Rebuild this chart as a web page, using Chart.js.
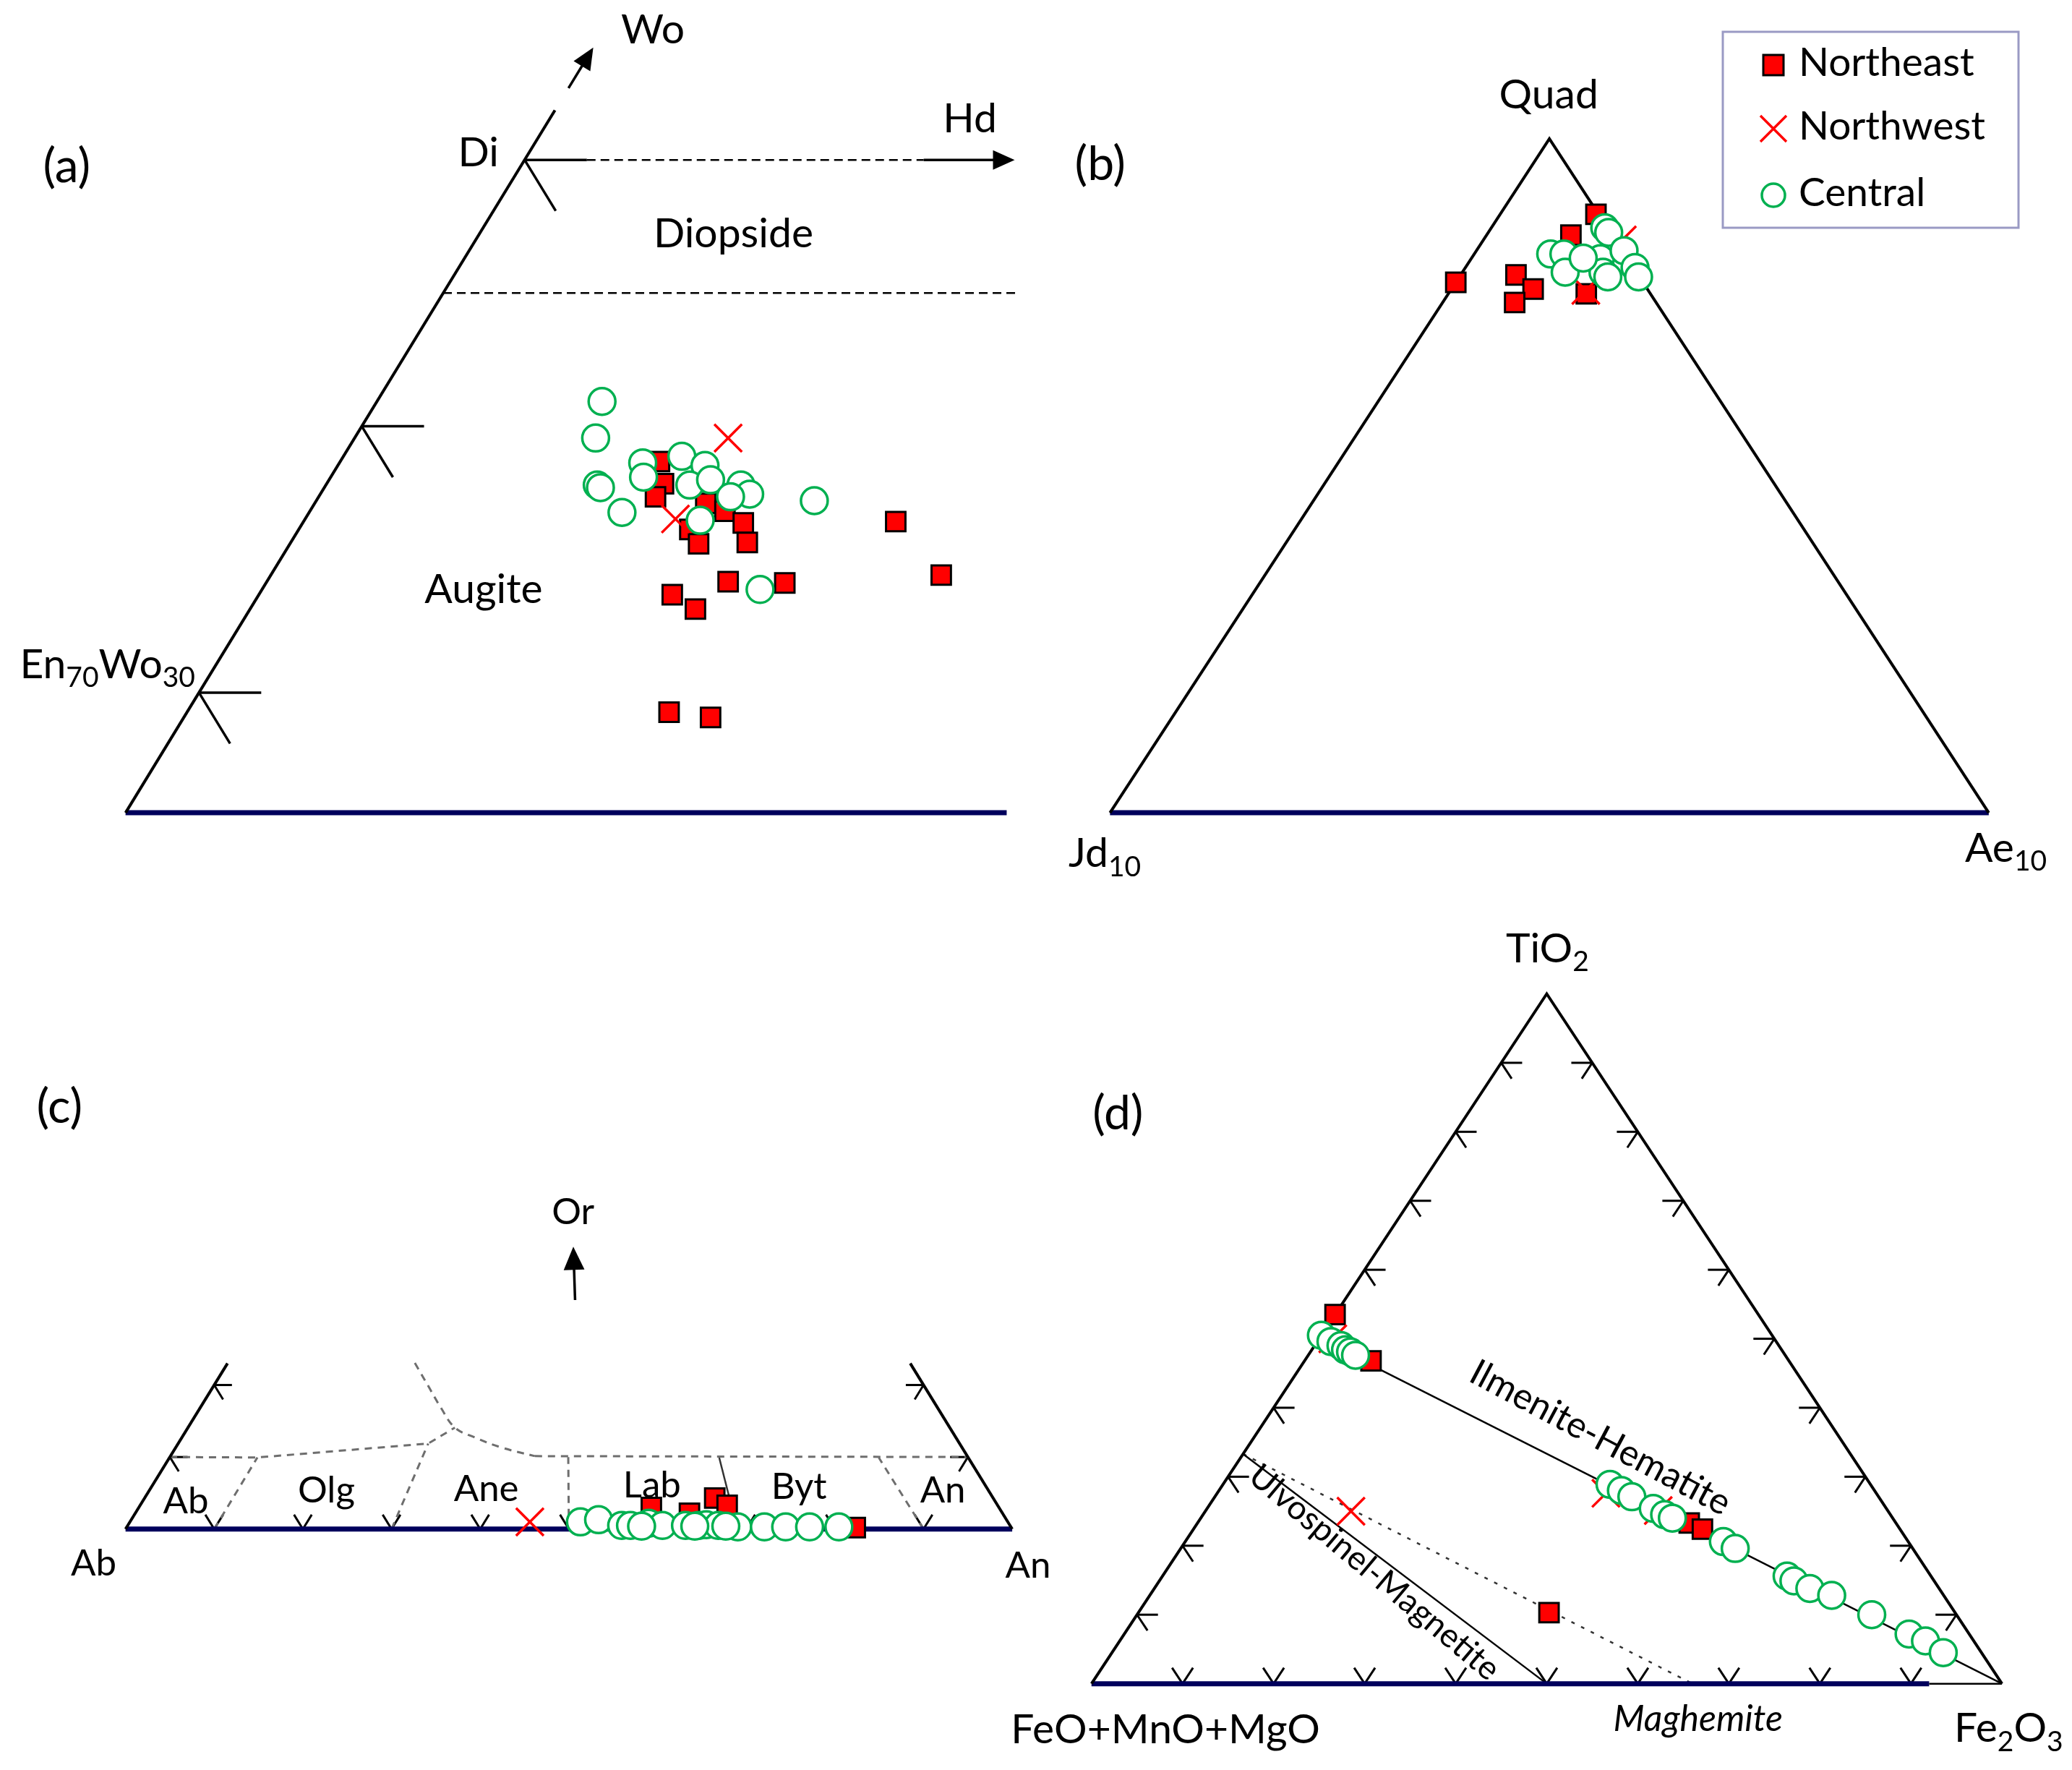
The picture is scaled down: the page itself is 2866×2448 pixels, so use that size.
<!DOCTYPE html>
<html>
<head>
<meta charset="utf-8">
<title>Ternary plots</title>
<script src="https://cdn.jsdelivr.net/npm/chart.js@4.4.1/dist/chart.umd.min.js"></script>
<style>
  html, body { margin: 0; padding: 0; background: #ffffff; }
  #page { position: relative; width: 2866px; height: 2448px; }
  #page canvas { position: absolute; left: 0; top: 0; }
</style>
</head>
<body>
<div id="page">
  <canvas id="chartA" width="2866" height="2448"></canvas>
  <canvas id="chartB" width="2866" height="2448"></canvas>
  <canvas id="chartC" width="2866" height="2448"></canvas>
  <canvas id="chartD" width="2866" height="2448"></canvas>
</div>
<script>
// ---- data, in % ----

// (a) pyroxene Wo - En - Fs  (Wo = apex direction, Fs = right)
const aNortheastWo = [26.9, 25.2, 24.2, 23.7, 23.1, 21.7, 20.6, 22.2, 20.7, 22.3, 18.2, 16.7, 15.6, 17.7, 17.6, 7.7, 7.3];
const aNortheastFs = [20.0, 21.1, 21.1, 24.5, 26.0, 24.5, 25.6, 27.6, 28.6, 37.1, 42.0, 25.9, 27.9, 28.9, 32.5, 30.2, 33.0];
const aNorthwestWo = [28.7, 22.5];
const aNorthwestFs = [23.4, 23.2];
const aCentralWo = [31.5, 28.7, 25.1, 24.9, 23.0, 26.8, 25.7, 27.3, 26.6, 25.1, 25.5, 25.1, 24.4, 24.2, 22.4, 23.9, 17.1];
const aCentralFs = [14.1, 15.1, 17.0, 17.3, 19.6, 19.0, 19.6, 21.2, 23.0, 22.8, 23.9, 26.0, 26.9, 25.8, 24.8, 31.2, 31.2];

// (b) Quad - Jd - Ae
const bNortheastQuad = [88.8, 85.7, 79.8, 77.7, 75.7, 77.0, 78.7];
const bNortheastAe = [10.9, 9.6, 6.3, 9.3, 8.2, 15.7, 0.0];
const bNorthwestQuad = [85.0, 77.5];
const bNorthwestAe = [15.8, 15.4];
const bCentralQuad = [82.9, 82.9, 80.2, 86.8, 86.1, 82.2, 80.2, 83.4, 80.9, 79.5, 82.3, 79.5];
const bCentralAe = [8.7, 10.2, 11.7, 12.9, 13.7, 14.7, 16.0, 16.8, 19.3, 20.4, 12.7, 16.9];

// (c) feldspar Or - Ab - An
const cNortheastOr = [3.0, 2.2, 4.3, 3.3, 0.2];
const cNortheastAn = [57.8, 62.5, 64.3, 66.2, 82.2];
const cNorthwestOr = [1.0];
const cNorthwestAn = [45.1];
const cCentralOr = [1.0, 1.3, 0.5, 0.5, 0.8, 0.5, 0.5, 0.5, 0.6, 0.5, 0.3, 0.3, 0.3, 0.3, 0.3, 0.4, 0.4, 0.4];
const cCentralAn = [50.8, 52.7, 55.7, 56.7, 58.6, 60.3, 62.9, 64.4, 65.2, 66.6, 68.9, 71.9, 74.3, 77.0, 80.3, 58.0, 64.0, 67.5];

// (d) Fe-Ti oxides TiO2 - (FeO+MnO+MgO) - Fe2O3
const dNortheastTiO2 = [53.5, 46.8, 23.3, 22.4, 10.3];
const dNortheastFe2O3 = [0.0, 7.3, 54.0, 55.9, 45.1];
const dNorthwestTiO2 = [25.0, 50.0, 27.6, 25.1];
const dNorthwestFe2O3 = [16.0, 1.5, 42.7, 49.7];
const dCentralTiO2 = [50.5, 49.6, 49.0, 48.4, 48.1, 47.6, 28.9, 28.0, 27.1, 25.4, 24.5, 24.0, 20.6, 19.6, 15.6, 14.9, 13.8, 12.8, 10.0, 7.2, 6.2, 4.5];
const dCentralFe2O3 = [0.0, 1.5, 2.9, 3.7, 4.4, 5.2, 42.5, 44.2, 45.8, 49.0, 50.7, 51.8, 59.1, 60.9, 68.6, 69.7, 72.0, 74.9, 80.7, 86.2, 88.5, 91.3];

const legendNames = ['Northeast', 'Northwest', 'Central'];

// ---- layout ----
const W = 2866, H = 2448;
const K = W / 1568;            // layout units below -> page px
const FONT = 'Lato, "Open Sans", "DejaVu Sans", sans-serif';

// where each triangle sits: origin of the base-left corner and size of 1 % step
const GEO = {
  a: { ox: 95, oy: 615, ux: 12.08, uy: 9.88 },
  b: { ox: 840, oy: 615, ux: 6.65, uy: 5.10 },
  c: { ox: 95, oy: 1157, ux: 6.71, uy: 5.45 },
  d: { ox: 826, oy: 1274, ux: 6.89, uy: 5.22 }
};

// ternary (apex %, right-corner %) -> triangle cartesian
function tern(a, b) { return { x: b + a / 2, y: a }; }

const MARK = {
  Northeast: { pointStyle: 'rect', pointRadius: 19, pointBackgroundColor: '#ff0000', pointBorderColor: '#000000', pointBorderWidth: 3, order: 3 },
  Northwest: { pointStyle: 'crossRot', pointRadius: 27, pointBackgroundColor: '#ff0000', pointBorderColor: '#ff0000', pointBorderWidth: 3.5, order: 2 },
  Central: { pointStyle: 'circle', pointRadius: 18.5, pointBackgroundColor: '#ffffff', pointBorderColor: '#00b050', pointBorderWidth: 3.5, order: 1 }
};

function series(name, tops, rights) {
  return Object.assign({
    label: name,
    data: tops.map((t, i) => tern(t, rights[i])),
    showLine: false
  }, MARK[name]);
}

function line(pts, opt) {
  return Object.assign({
    data: pts.map(p => tern(p[0], p[1])),
    showLine: true, pointRadius: 0, borderColor: '#000000', borderWidth: 4,
    fill: false, tension: 0, order: 10
  }, opt || {});
}

const NAVY = { borderColor: '#00005c', borderWidth: 7 };
const THIN = { borderWidth: 2.5 };
const DASH = { borderWidth: 2.5, borderDash: [12, 7] };
const GREYDASH = { borderColor: '#6e6e6e', borderWidth: 3, borderDash: [10, 8] };

// tick arms: [d apex, d right] per unit length
const LEFT = [[0, 1], [-1, 1]];
const RIGHT = [[0, -1], [-1, 0]];
const BASE = [[1, -1], [1, 0]];

function px(chart, a, b) {
  const p = tern(a, b);
  return [chart.scales.x.getPixelForValue(p.x), chart.scales.y.getPixelForValue(p.y)];
}

function drawRich(ctx, segs, x, y, size, align, italic) {
  const fontOf = (sub) => (italic ? 'italic ' : '') + Math.round(sub ? size * 0.68 : size) + 'px ' + FONT;
  let total = 0;
  segs.forEach(s => { ctx.font = fontOf(s[1]); total += ctx.measureText(s[0]).width; });
  let cx = align === 'center' ? x - total / 2 : (align === 'right' ? x - total : x);
  ctx.textAlign = 'left';
  ctx.textBaseline = 'middle';
  segs.forEach(s => {
    ctx.font = fontOf(s[1]);
    ctx.fillText(s[0], cx, s[1] ? y + size * 0.32 : y);
    cx += ctx.measureText(s[0]).width;
  });
}

function decor(spec) {
  return {
    id: 'decor',
    beforeDatasetsDraw(chart) {
      const ctx = chart.ctx;
      ctx.save();
      ctx.strokeStyle = '#000000';
      ctx.fillStyle = '#000000';
      ctx.lineWidth = spec.tickWidth || 3;
      (spec.ticks || []).forEach(t => {
        const p0 = px(chart, t[0], t[1]);
        t[2].forEach(arm => {
          const p1 = px(chart, t[0] + arm[0] * spec.tickLen, t[1] + arm[1] * spec.tickLen);
          ctx.beginPath(); ctx.moveTo(p0[0], p0[1]); ctx.lineTo(p1[0], p1[1]); ctx.stroke();
        });
      });
      (spec.arrows || []).forEach(ar => {
        const [x0, y0] = px(chart, ar.from[0], ar.from[1]);
        const [x1, y1] = px(chart, ar.to[0], ar.to[1]);
        const ang = Math.atan2(y1 - y0, x1 - x0), hl = ar.head, hw = ar.head * 0.45;
        const c = Math.cos(ang), s = Math.sin(ang);
        ctx.lineWidth = ar.width;
        ctx.beginPath(); ctx.moveTo(x0, y0); ctx.lineTo(x1 - c * hl * 0.7, y1 - s * hl * 0.7); ctx.stroke();
        ctx.beginPath();
        ctx.moveTo(x1, y1);
        ctx.lineTo(x1 - c * hl - s * hw, y1 - s * hl + c * hw);
        ctx.lineTo(x1 - c * hl + s * hw, y1 - s * hl - c * hw);
        ctx.closePath(); ctx.fill();
      });
      ctx.restore();
    },
    afterDraw(chart) {
      const ctx = chart.ctx;
      ctx.save();
      ctx.fillStyle = '#000000';
      (spec.labels || []).forEach(l => {
        ctx.save();
        ctx.translate(l.x * K, l.y * K);
        if (l.rot) ctx.rotate(l.rot * Math.PI / 180);
        drawRich(ctx, l.t, 0, 0, l.s, l.align || 'center', l.italic);
        ctx.restore();
      });
      if (spec.legend) drawLegend(ctx);
      ctx.restore();
    }
  };
}

function drawLegend(ctx) {
  ctx.save();
  ctx.strokeStyle = '#9a9ac4';
  ctx.lineWidth = 3;
  ctx.strokeRect(2383, 44, 409, 271);
  const mx = 2453, rows = [90, 178, 270];
  legendNames.forEach((name, i) => {
    const y = rows[i];
    if (name === 'Northeast') {
      ctx.fillStyle = '#ff0000'; ctx.fillRect(mx - 14, y - 14, 28, 28);
      ctx.strokeStyle = '#000000'; ctx.lineWidth = 3; ctx.strokeRect(mx - 14, y - 14, 28, 28);
    } else if (name === 'Northwest') {
      ctx.strokeStyle = '#ff0000'; ctx.lineWidth = 3.5;
      ctx.beginPath(); ctx.moveTo(mx - 18, y - 18); ctx.lineTo(mx + 18, y + 18);
      ctx.moveTo(mx + 18, y - 18); ctx.lineTo(mx - 18, y + 18); ctx.stroke();
    } else {
      ctx.strokeStyle = '#00b050'; ctx.lineWidth = 3.5;
      ctx.beginPath(); ctx.arc(mx, y, 16, 0, Math.PI * 2); ctx.stroke();
    }
    ctx.fillStyle = '#000000';
    drawRich(ctx, [[name]], 2488, y - 3, 55, 'left');
  });
  ctx.restore();
}

function makePanel(id, geo, datasets, spec) {
  return new Chart(document.getElementById(id), {
    type: 'scatter',
    data: { datasets: datasets },
    options: {
      responsive: false,
      animation: false,
      events: [],
      layout: { padding: 0, autoPadding: false },
      plugins: { legend: { display: false }, tooltip: { enabled: false } },
      scales: {
        x: { type: 'linear', display: false, bounds: 'data', grace: 0,
             min: -geo.ox / geo.ux, max: (W / K - geo.ox) / geo.ux },
        y: { type: 'linear', display: false, bounds: 'data', grace: 0,
             min: (geo.oy - H / K) / geo.uy, max: geo.oy / geo.uy }
      }
    },
    plugins: [decor(spec)]
  });
}

const steps = [10, 20, 30, 40, 50, 60, 70, 80, 90];

// ---- (a) ----
makePanel('chartA', GEO.a, [
  series('Central', aCentralWo, aCentralFs),
  series('Northwest', aNorthwestWo, aNorthwestFs),
  series('Northeast', aNortheastWo, aNortheastFs),
  line([[0, 0], [53.8, 0]]),
  line([[0, 0], [0, 55.2]], NAVY),
  line([[39.8, 0], [39.8, 36.0]], DASH),
  line([[50, 3.9], [50, 25]], DASH)
], {
  tickLen: 3.9, tickWidth: 3.5,
  ticks: [[9.2, 0, LEFT], [29.6, 0, LEFT], [50, 0, LEFT]],
  arrows: [
    { from: [55.5, 0], to: [58.6, 0], width: 3.5, head: 30 },
    { from: [50, 25], to: [50, 30.7], width: 3.5, head: 30 }
  ],
  labels: [
    { t: [['(a)']], x: 50.5, y: 126, s: 66 },
    { t: [['Wo']], x: 494, y: 23, s: 57 },
    { t: [['Di']], x: 362, y: 116, s: 57 },
    { t: [['Hd']], x: 734, y: 90, s: 57 },
    { t: [['Diopside']], x: 555, y: 177, s: 57 },
    { t: [['Augite']], x: 366, y: 446, s: 57 },
    { t: [['En'], ['70', 1], ['Wo'], ['30', 1]], x: 15, y: 503, s: 57, align: 'left' }
  ]
});

// ---- (b) ----
makePanel('chartB', GEO.b, [
  series('Central', bCentralQuad, bCentralAe),
  series('Northwest', bNorthwestQuad, bNorthwestAe),
  series('Northeast', bNortheastQuad, bNortheastAe),
  line([[0, 0], [100, 0], [0, 100]]),
  line([[0, 0], [0, 100]], NAVY)
], {
  labels: [
    { t: [['(b)']], x: 832.5, y: 124.5, s: 66 },
    { t: [['Quad']], x: 1172, y: 72, s: 57 },
    { t: [['Jd'], ['10', 1]], x: 836, y: 646, s: 57 },
    { t: [['Ae'], ['10', 1]], x: 1518, y: 642, s: 57 }
  ],
  legend: true
});

// ---- (c) ----
makePanel('chartC', GEO.c, [
  series('Central', cCentralOr, cCentralAn),
  series('Northwest', cNorthwestOr, cNorthwestAn),
  series('Northeast', cNortheastOr, cNortheastAn),
  line([[0, 0], [23, 0]]),
  line([[0, 100], [23, 77]]),
  line([[0, 0], [0, 100]], NAVY),
  line([[10, 0], [9.94, 9.9], [11.87, 28.2], [14.09, 30.1]], GREYDASH),
  line([[23.06, 21.1], [19.87, 24.2], [16.79, 27.2], [14.09, 30.1], [12.73, 33.0], [11.32, 36.75], [10.13, 41.1]],
    Object.assign({ tension: 0.4 }, GREYDASH)),
  line([[10.13, 41.1], [10, 90]], GREYDASH),
  line([[0, 10], [9.94, 9.9]], GREYDASH),
  line([[0, 30], [11.87, 28.2]], GREYDASH),
  line([[0, 50], [10, 44.93]], GREYDASH),
  line([[0, 69], [9.91, 62.0]], { borderColor: '#333333', borderWidth: 2.5 }),
  line([[0, 90], [9.91, 80.0]], GREYDASH)
], {
  tickLen: 2, tickWidth: 3,
  ticks: [[10, 0, LEFT], [20, 0, LEFT], [10, 90, RIGHT], [20, 80, RIGHT]].concat(steps.map(v => [0, v, BASE])),
  arrows: [{ from: [31.8, 34.8], to: [39.2, 30.9], width: 3.5, head: 32 }],
  labels: [
    { t: [['(c)']], x: 45, y: 838, s: 66 },
    { t: [['Or']], x: 433.7, y: 917.5, s: 51 },
    { t: [['Ab']], x: 70.9, y: 1183.4, s: 51 },
    { t: [['An']], x: 778, y: 1185, s: 51 },
    { t: [['Ab']], x: 140.6, y: 1136, s: 51 },
    { t: [['Olg']], x: 247, y: 1128, s: 51 },
    { t: [['Ane']], x: 368, y: 1127, s: 51 },
    { t: [['Lab']], x: 493.4, y: 1124, s: 51 },
    { t: [['Byt']], x: 604.6, y: 1125, s: 51 },
    { t: [['An']], x: 713.5, y: 1128, s: 51 }
  ]
});

// ---- (d) ----
makePanel('chartD', GEO.d, [
  series('Central', dCentralTiO2, dCentralFe2O3),
  series('Northwest', dNorthwestTiO2, dNorthwestFe2O3),
  series('Northeast', dNortheastTiO2, dNortheastFe2O3),
  line([[0, 0], [100, 0], [0, 100]]),
  line([[0, 0], [0, 92]], NAVY),
  line([[0, 92], [0, 100]], THIN),
  line([[50, 0], [0, 100]], THIN),
  line([[33.3, 0], [0, 50]], THIN),
  line([[33.3, 0], [0, 66]], { borderColor: '#333333', borderWidth: 2.5, borderDash: [5, 10] })
], {
  tickLen: 2.3, tickWidth: 3,
  ticks: steps.map(v => [v, 0, LEFT])
    .concat(steps.map(v => [v, 100 - v, RIGHT]))
    .concat(steps.map(v => [0, v, BASE])),
  labels: [
    { t: [['TiO'], ['2', 1]], x: 1171, y: 718, s: 57 },
    { t: [['(d)']], x: 846, y: 843, s: 66 },
    { t: [['FeO+MnO+MgO']], x: 882, y: 1309, s: 57 },
    { t: [['Maghemite']], x: 1285, y: 1301, s: 50, italic: true },
    { t: [['Fe'], ['2', 1], ['O'], ['3', 1]], x: 1520, y: 1308, s: 57 },
    { t: [['Ilmenite-Hematite']], x: 1211, y: 1088, s: 50, rot: 28 },
    { t: [['Ulvospinel-Magnetite']], x: 1040, y: 1190, s: 46, rot: 40 }
  ]
});
</script>
</body>
</html>
